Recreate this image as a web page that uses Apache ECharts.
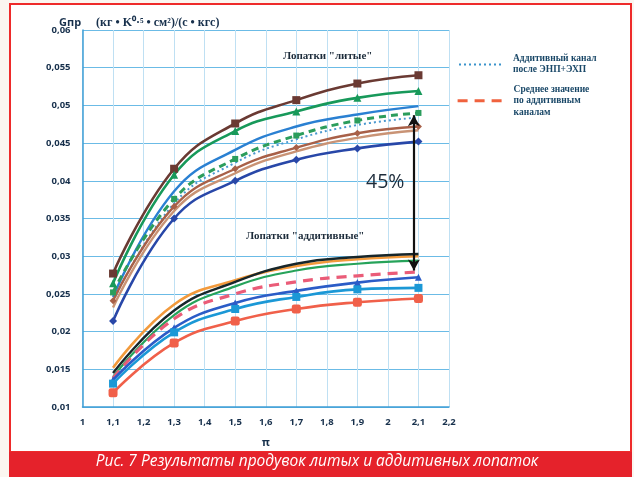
<!DOCTYPE html>
<html>
<head>
<meta charset="utf-8">
<script src="https://cdn.jsdelivr.net/npm/echarts@6/dist/echarts.min.js"></script>
<style>
  html, body { margin: 0; padding: 0; background: #fbf6f0; }
  #chart { width: 634px; height: 477px; }
</style>
</head>
<body>
<div id="chart"></div>
<script>
// Pressure ratio points (π)
const piValues = [1.1, 1.3, 1.5, 1.7, 1.9, 2.1];

// Axis tick labels
const xTickLabels = ['1', '1,1', '1,2', '1,3', '1,4', '1,5', '1,6', '1,7', '1,8', '1,9', '2', '2,1', '2,2'];
const yTickLabels = ['0,01', '0,015', '0,02', '0,025', '0,03', '0,035', '0,04', '0,045', '0,05', '0,055', '0,06'];

// Cast blades ("литые")
const castBrown   = [0.0277, 0.0416, 0.0476, 0.0507, 0.0529, 0.0540];
const castGreen   = [0.0264, 0.0408, 0.0466, 0.0492, 0.0510, 0.0519];
const castBlue    = [0.0246, 0.0386, 0.0441, 0.0472, 0.0488, 0.0499];
const castGreenD  = [0.0252, 0.0376, 0.0429, 0.0460, 0.0480, 0.0490];
const castDotted  = [0.0240, 0.0370, 0.0424, 0.0455, 0.0474, 0.0484];
const castRust    = [0.0241, 0.0366, 0.0416, 0.0444, 0.0463, 0.0472];
const castTan     = [0.0232, 0.0360, 0.0410, 0.0439, 0.0457, 0.0467];
const castNavy    = [0.0214, 0.0350, 0.0400, 0.0428, 0.0443, 0.0452];

// Additive blades ("аддитивные")
const addOrange   = [0.0152, 0.0236, 0.0268, 0.0287, 0.0296, 0.0300];
const addBlack    = [0.0145, 0.0228, 0.0266, 0.0290, 0.0299, 0.0303];
const addGreen    = [0.0140, 0.0222, 0.0260, 0.0281, 0.0290, 0.0294];
const addMean     = [0.0138, 0.0217, 0.0250, 0.0266, 0.0274, 0.0279];
const addBlue     = [0.0136, 0.0205, 0.0238, 0.0254, 0.0265, 0.0272];
const addCyan     = [0.0131, 0.0199, 0.0230, 0.0246, 0.0256, 0.0258];
const addRed      = [0.0119, 0.0185, 0.0214, 0.0230, 0.0239, 0.0244];

// Difference between the groups at π = 2,1
const gapLabel = '45%';
const gapFrom = 0.0487;
const gapTo = 0.0281;
const gapPi = 2.085;

const NAME_DOTTED = 'Аддитивный канал\nпосле ЭНП+ЭХП';
const NAME_MEAN = 'Среднее значение\nпо аддитивным\nканалам';

function pairs(vals) {
  return piValues.map((p, i) => [p, vals[i]]);
}

function lineSeries(name, vals, color, opts) {
  opts = opts || {};
  return Object.assign({
    name: name,
    type: 'line',
    smooth: 0.45,
    data: pairs(vals),
    symbol: opts.symbol || 'none',
    symbolSize: opts.symbolSize || 7,
    showSymbol: !!opts.symbol,
    itemStyle: { color: color },
    lineStyle: { color: color, width: opts.width || 2.4, type: opts.type || 'solid' },
    emphasis: { disabled: true },
    silent: true,
    z: opts.z || 2
  }, opts.extra || {});
}

const chart = echarts.init(document.getElementById('chart'), null, { renderer: 'canvas' });

const tickFmtX = v => xTickLabels[Math.round((v - 1) * 10)] || '';
const tickFmtY = v => yTickLabels[Math.round((v - 0.01) / 0.005)] || '';

const labelFont = { color: '#17304c', fontWeight: 'bold', fontSize: 9.5, fontFamily: 'Open Sans, sans-serif' };
const legendText = { color: '#1a4868', fontWeight: 'bold', fontSize: 9.5, fontFamily: 'Liberation Serif, serif', lineHeight: 11 };

chart.setOption({
  backgroundColor: '#fbf6f0',
  animation: false,
  title: {
    text: '{g|Gпр}   {u|(кг • K⁰·⁵ • см²)/(с • кгс)}',
    left: 54,
    top: 9,
    textStyle: {
      rich: {
        g: { fontFamily: 'Open Sans, sans-serif', fontWeight: 'bold', fontSize: 11, color: '#17304c' },
        u: { fontFamily: 'Liberation Serif, serif', fontWeight: 'bold', fontSize: 12, color: '#17304c' }
      }
    }
  },
  legend: [
    {
      data: [{ name: NAME_DOTTED,
               itemStyle: { opacity: 0 },
               lineStyle: { color: '#3a93cc', width: 2, type: [2, 3] },
               textStyle: Object.assign({}, legendText, { padding: [5, 0, 0, 5] }) }],
      left: 458, top: 51, padding: 0,
      itemWidth: 44, itemHeight: 8,
      selectedMode: false
    },
    {
      data: [{ name: NAME_MEAN,
               itemStyle: { opacity: 0 },
               lineStyle: { color: '#f0623e', width: 3.2, type: [10, 7] },
               textStyle: Object.assign({}, legendText, { lineHeight: 11.5, padding: [15, 0, 0, 5] }) }],
      left: 456, top: 76, padding: 0,
      itemWidth: 46, itemHeight: 8,
      selectedMode: false
    }
  ],
  grid: { left: 82.5, right: 185, top: 30, bottom: 70, containLabel: false },
  xAxis: {
    type: 'value', min: 1, max: 2.2, interval: 0.1,
    name: 'π', nameLocation: 'middle', nameGap: 30,
    nameTextStyle: { color: '#17304c', fontWeight: 'bold', fontSize: 11, fontFamily: 'Open Sans, sans-serif' },
    axisLine: { show: true, lineStyle: { color: '#3f9fd6', width: 1.5 } },
    axisTick: { show: false },
    axisLabel: Object.assign({ formatter: tickFmtX, margin: 10 }, labelFont),
    splitLine: { show: true, lineStyle: { color: '#bfe0f3', width: 1 } }
  },
  yAxis: {
    type: 'value', min: 0.01, max: 0.06, interval: 0.005,
    axisLine: { show: true, lineStyle: { color: '#3f9fd6', width: 1.5 } },
    axisTick: { show: false },
    axisLabel: Object.assign({ formatter: tickFmtY, margin: 12 }, labelFont),
    splitLine: { show: true, lineStyle: { color: '#6bbbe6', width: 1.2 } }
  },
  series: [
    // cast group
    lineSeries('cast-brown', castBrown, '#6a3a33', { symbol: 'rect', symbolSize: 8, width: 2.6 }),
    lineSeries('cast-green', castGreen, '#17995a', { symbol: 'triangle', symbolSize: 8, width: 2.6 }),
    lineSeries('cast-blue', castBlue, '#2a80d2', { width: 2.4 }),
    lineSeries('cast-green-dashed', castGreenD, '#2b9d5c', { symbol: 'rect', symbolSize: 6, width: 3, type: [7, 5] }),
    lineSeries(NAME_DOTTED, castDotted, '#4a98cf', { width: 2, type: [2, 3] }),
    lineSeries('cast-rust', castRust, '#a86048', { symbol: 'diamond', symbolSize: 7, width: 2.4 }),
    lineSeries('cast-tan', castTan, '#c99375', { width: 2.4 }),
    lineSeries('cast-navy', castNavy, '#2847a8', { symbol: 'diamond', symbolSize: 8, width: 2.6 }),
    // additive group
    lineSeries('add-orange', addOrange, '#f29a3c', { width: 2.6 }),
    lineSeries('add-black', addBlack, '#17262a', { width: 2.4, extra: {
      markLine: {
        silent: true,
        symbol: ['arrow', 'arrow'],
        symbolSize: [9, 11],
        label: { show: false },
        lineStyle: { color: '#111111', width: 2.2, type: 'solid' },
        data: [[{ coord: [gapPi, gapFrom] }, { coord: [gapPi, gapTo] }]]
      }
    } }),
    lineSeries('add-green', addGreen, '#26a35a', { width: 2.2 }),
    lineSeries(NAME_MEAN, addMean, '#ea5c78', { width: 3.2, type: [10, 7] }),
    lineSeries('add-blue', addBlue, '#2b5cc7', { symbol: 'triangle', symbolSize: 7, width: 2.6 }),
    lineSeries('add-cyan', addCyan, '#1b98d6', { symbol: 'rect', symbolSize: 8, width: 2.6 }),
    lineSeries('add-red', addRed, '#f0604a', { symbol: 'roundRect', symbolSize: 9, width: 2.6 })
  ],
  graphic: [
    { type: 'rect', z: -100, shape: { x: 10, y: 4, width: 621, height: 448 },
      style: { fill: '#ffffff', stroke: '#ee2a2a', lineWidth: 2 }, silent: true },
    { type: 'rect', z: 50, shape: { x: 9, y: 452, width: 623, height: 25 },
      style: { fill: '#e5222b' }, silent: true },
    { type: 'text', z: 51, left: 'center', top: 454,
      style: { text: 'Рис. 7 Результаты продувок литых и аддитивных лопаток', fill: '#ffffff',
               fontSize: 15.5, fontStyle: 'italic', fontFamily: 'Open Sans, sans-serif' }, silent: true },
    { type: 'text', z: 60, x: 283, y: 51,
      style: { text: 'Лопатки "литые"', fill: '#1c2b3a', fontSize: 11, fontWeight: 'bold',
               fontFamily: 'Liberation Serif, serif' }, silent: true },
    { type: 'text', z: 60, x: 246, y: 231,
      style: { text: 'Лопатки "аддитивные"', fill: '#1c2b3a', fontSize: 11, fontWeight: 'bold',
               fontFamily: 'Liberation Serif, serif' }, silent: true },
    { type: 'text', z: 60, x: 366, y: 172,
      style: { text: gapLabel, fill: '#1c2b3a', fontSize: 19.5, fontFamily: 'Open Sans, sans-serif' }, silent: true }
  ]
});
</script>
</body>
</html>
